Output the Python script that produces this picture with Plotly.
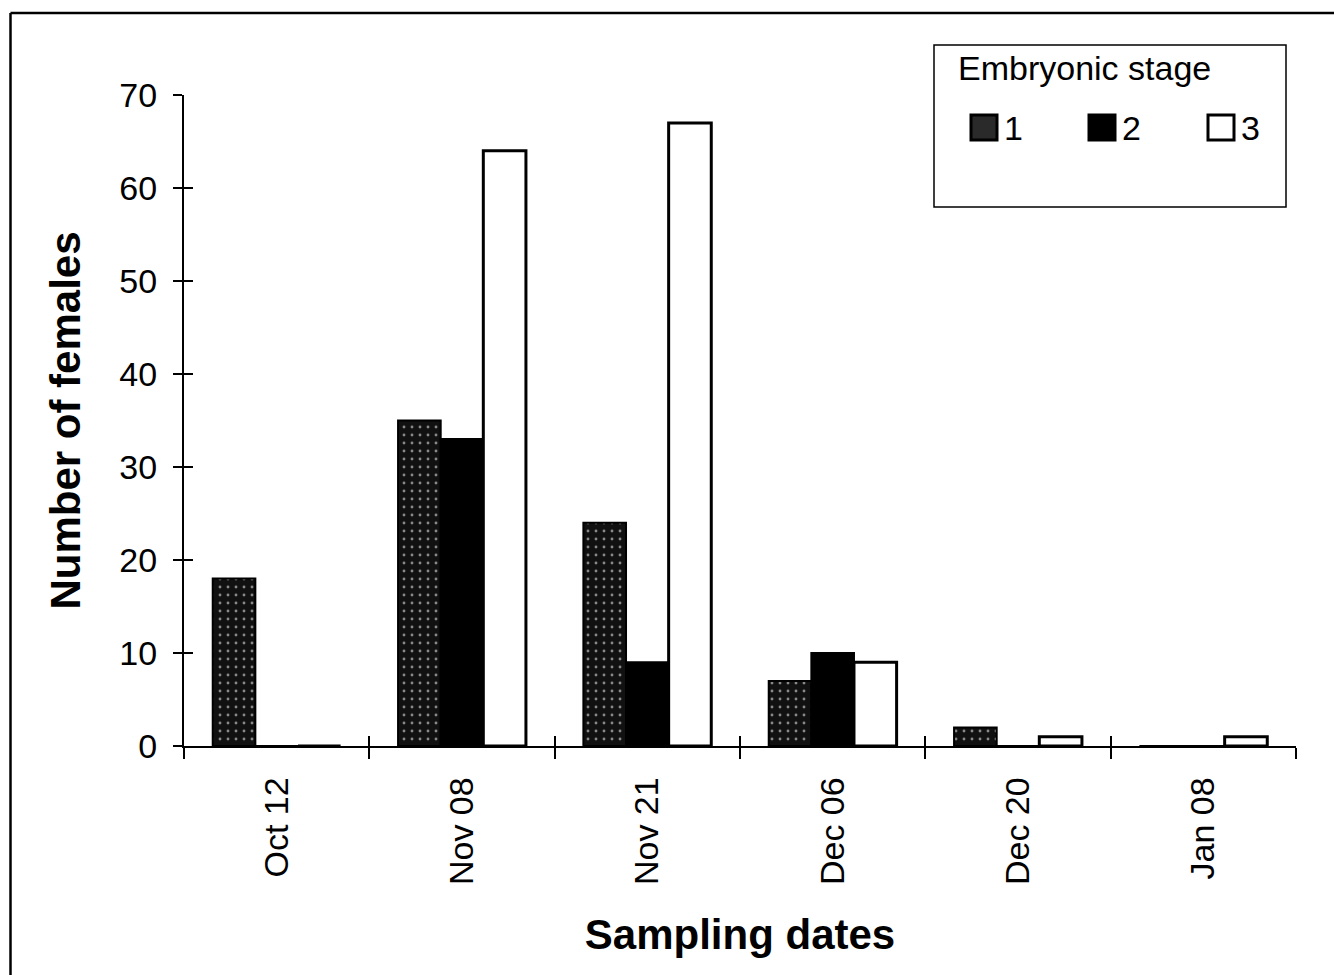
import plotly.graph_objects as go

dates = ["Oct 12", "Nov 08", "Nov 21", "Dec 06", "Dec 20", "Jan 08"]
stage1 = [18, 35, 24, 7, 2, 0]
stage2 = [0, 33, 9, 10, 0, 0]
stage3 = [0, 64, 67, 9, 1, 1]
stage_names = ["1", "2", "3"]
y_ticks = [0, 10, 20, 30, 40, 50, 60, 70]

W, H = 1334, 975
L, R, T, B = 184, 1296, 95, 746
FONT = "Liberation Sans, Arial, sans-serif"


def px(x):
    return (x - L) / (R - L)


def py(y):
    return (B - y) / (B - T)


fig = go.Figure()
fig.add_trace(go.Bar(
    x=dates, y=stage1, name=stage_names[0],
    marker=dict(color="#111111",
                pattern=dict(shape=".", bgcolor="#111111", fgcolor="#ffffff",
                             size=8, solidity=0.1),
                line=dict(color="black", width=2)),
    showlegend=False))
fig.add_trace(go.Bar(
    x=dates, y=stage2, name=stage_names[1],
    marker=dict(color="black", line=dict(color="black", width=2)),
    showlegend=False))
fig.add_trace(go.Bar(
    x=dates, y=stage3, name=stage_names[2],
    marker=dict(color="white", line=dict(color="black", width=3)),
    showlegend=False))
# invisible helper trace so the overlaid tick axes are drawn
fig.add_trace(go.Scatter(x=[0], y=[0], xaxis="x2", yaxis="y2", mode="markers",
                         marker=dict(opacity=0), hoverinfo="skip", showlegend=False))

n = len(dates)
fig.update_layout(
    width=W, height=H,
    margin=dict(l=L, r=W - R, t=T, b=H - B, autoexpand=False),
    paper_bgcolor="white", plot_bgcolor="white",
    font=dict(family=FONT, size=34, color="black"),
    barmode="group", bargap=0.31, bargroupgap=0,
    xaxis=dict(type="category", categoryorder="array", categoryarray=dates,
               range=[-0.5, n - 0.5], tickson="boundaries",
               ticks="outside", ticklen=11, tickwidth=1.5, tickcolor="black",
               showline=True, linecolor="black", linewidth=1.5,
               tickangle=-90, tickfont=dict(size=34), ticklabelstandoff=16,
               showgrid=False, zeroline=False, automargin=False,
               title=dict(text="<b>Sampling dates</b>", font=dict(size=42), standoff=36)),
    yaxis=dict(range=[0, 70], tickvals=y_ticks,
               ticks="outside", ticklen=9, tickwidth=1.5, tickcolor="black",
               showline=True, linecolor="black", linewidth=2,
               tickfont=dict(size=34), ticklabelstandoff=9,
               showgrid=False, zeroline=False, automargin=False,
               title=dict(text="<b>Number of females</b>", font=dict(size=42), standoff=26)),
    xaxis2=dict(overlaying="x", side="bottom", anchor="y2", range=[-0.5, n - 0.5],
                tickvals=[i - 0.5 for i in range(n + 1)], showticklabels=False,
                ticks="inside", ticklen=10, tickwidth=1.5, tickcolor="black",
                showline=False, showgrid=False, zeroline=False),
    yaxis2=dict(overlaying="y", side="left", anchor="x2", range=[0, 70], tickvals=y_ticks,
                showticklabels=False, ticks="inside", ticklen=9, tickwidth=1.5,
                tickcolor="black", showline=False, showgrid=False, zeroline=False),
)

shapes = []
# outer frame (top and left)
shapes.append(dict(type="line", xref="paper", yref="paper",
                   x0=px(10.5), x1=px(W + 5), y0=py(13), y1=py(13),
                   line=dict(color="black", width=2.5)))
shapes.append(dict(type="line", xref="paper", yref="paper",
                   x0=px(10.5), x1=px(10.5), y0=py(13), y1=py(H + 5),
                   line=dict(color="black", width=2.5)))
# legend box
shapes.append(dict(type="rect", xref="paper", yref="paper",
                   x0=px(934), x1=px(1286), y0=py(45), y1=py(207),
                   line=dict(color="black", width=1.5), fillcolor="white", layer="below"))
# legend symbols
sym_x = [(971, 997), (1089, 1115), (1208, 1234)]
sym_fill = ["#2a2a2a", "black", "white"]
for (a, b), fc in zip(sym_x, sym_fill):
    shapes.append(dict(type="rect", xref="paper", yref="paper",
                       x0=px(a), x1=px(b), y0=py(115), y1=py(140),
                       line=dict(color="black", width=3), fillcolor=fc))
fig.update_layout(shapes=shapes)

annotations = [dict(text="Embryonic stage", xref="paper", yref="paper",
                    x=px(956), y=py(68), xanchor="left", yanchor="middle",
                    showarrow=False, font=dict(size=34))]
lab_x = [1002, 1120, 1239]
for lx, name in zip(lab_x, stage_names):
    annotations.append(dict(text=name, xref="paper", yref="paper",
                            x=px(lx), y=py(128), xanchor="left", yanchor="middle",
                            showarrow=False, font=dict(size=34)))
fig.update_layout(annotations=annotations)

fig.write_html("out.html")
